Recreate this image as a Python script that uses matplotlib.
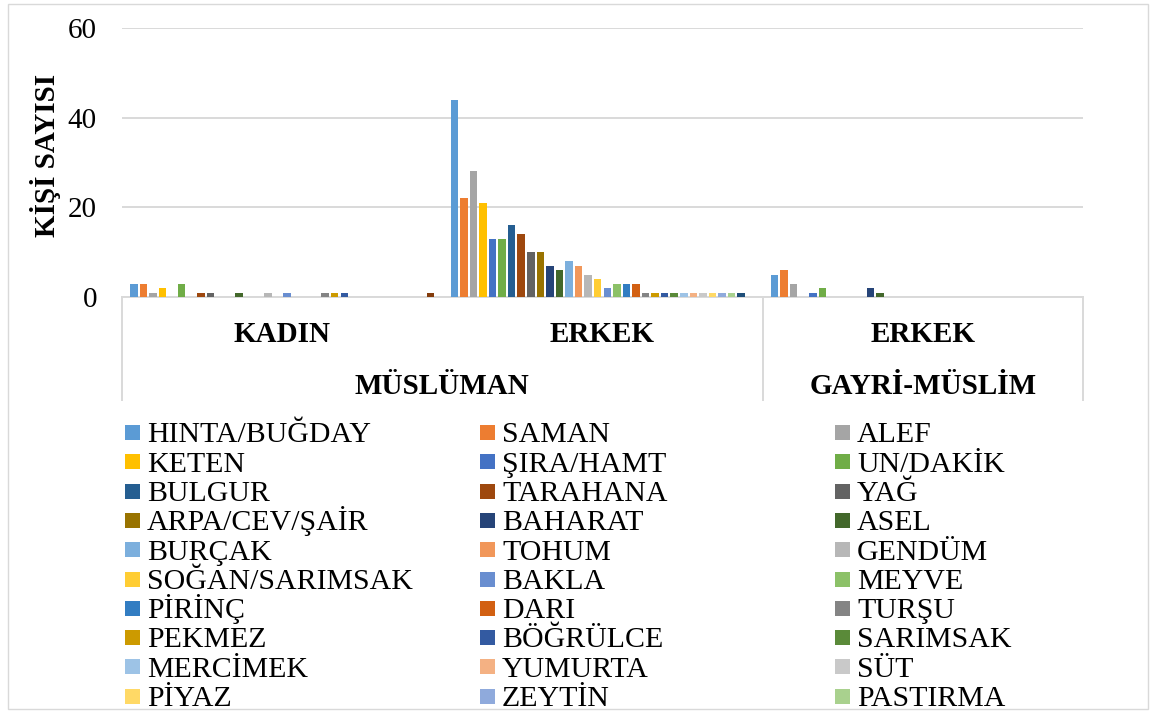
import numpy as np
import matplotlib
matplotlib.use("Agg")
import matplotlib.pyplot as plt
from matplotlib.patches import Rectangle
from matplotlib.lines import Line2D
from matplotlib.transforms import blended_transform_factory

plt.rcParams['font.family'] = ['Liberation Serif', 'DejaVu Serif']

# ---------------- data ----------------
groups_level1 = ["KADIN", "ERKEK", "ERKEK"]
groups_level2 = ["MÜSLÜMAN", "GAYRİ-MÜSLİM"]
level2_span = [(0, 1), (2, 2)]

series_labels = [
    "HINTA/BUĞDAY", "SAMAN", "ALEF", "KETEN", "ŞIRA/HAMT", "UN/DAKİK",
    "BULGUR", "TARAHANA", "YAĞ", "ARPA/CEV/ŞAİR", "BAHARAT", "ASEL",
    "BURÇAK", "TOHUM", "GENDÜM", "SOĞAN/SARIMSAK", "BAKLA", "MEYVE",
    "PİRİNÇ", "DARI", "TURŞU", "PEKMEZ", "BÖĞRÜLCE", "SARIMSAK",
    "MERCİMEK", "YUMURTA", "SÜT", "PİYAZ", "ZEYTİN", "PASTIRMA",
    "", "",
]

values_kadin = [3, 3, 1, 2, 0, 3, 0, 1, 1, 0, 0, 1, 0, 0, 1, 0,
                1, 0, 0, 0, 1, 1, 1, 0, 0, 0, 0, 0, 0, 0, 0, 1]
values_erkek = [44, 22, 28, 21, 13, 13, 16, 14, 10, 10, 7, 6, 8, 7, 5, 4,
                2, 3, 3, 3, 1, 1, 1, 1, 1, 1, 1, 1, 1, 1, 1, 0]
values_gayri = [5, 6, 3, 0, 1, 2, 0, 0, 0, 0, 2, 1, 0, 0, 0, 0,
                0, 0, 0, 0, 0, 0, 0, 0, 0, 0, 0, 0, 0, 0, 0, 0]

colors = [
    "#5B9BD5", "#ED7D31", "#A5A5A5", "#FFC000", "#4472C4", "#70AD47",
    "#255E91", "#9E480E", "#636363", "#997300", "#264478", "#43682B",
    "#7CAFDD", "#F1975A", "#B7B7B7", "#FFCD33", "#698ED0", "#8CC168",
    "#327DC2", "#D26012", "#848484", "#CC9A00", "#335AA1", "#5A8A39",
    "#9DC3E6", "#F4B183", "#C9C9C9", "#FFD966", "#8FAADC", "#A9D18E",
    "#1F4E79", "#843C0C",
]

y_ticks = [0, 20, 40, 60]
y_label = "KİŞİ SAYISI"

# ---------------- layout helpers ----------------
W, H = 1151, 711
def fx(px): return px / W
def fy(py): return 1 - py / H

fig = plt.figure(figsize=(W / 100, H / 100), dpi=100)
ax = fig.add_axes([fx(122), fy(297), (1083 - 122) / W, (297 - 28) / H])

n_series = len(series_labels)
gap = 1.5
w = 1.0 / (n_series + gap)
x_groups = np.arange(len(groups_level1))
data = np.array([values_kadin, values_erkek, values_gayri])

for i in range(n_series):
    xs = x_groups - 0.5 + (gap / 2 + i + 0.5) * w
    ax.bar(xs, data[:, i], width=w * 0.78, color=colors[i], zorder=3)

ax.set_xlim(-0.5, len(groups_level1) - 0.5)
ax.set_ylim(0, 60)
ax.set_yticks(y_ticks)
ax.set_xticks([])
ax.tick_params(axis='y', length=0, pad=18, labelsize=21)
ax.yaxis.grid(True, color='#D9D9D9', lw=1.4, zorder=0)
ax.set_axisbelow(True)
for s in ['left', 'right', 'top']:
    ax.spines[s].set_visible(False)
ax.spines['bottom'].set_color('#D9D9D9')
ax.spines['bottom'].set_linewidth(1.4)

# y label
fig.text(fx(55), fy(155), y_label, rotation=90, rotation_mode='anchor',
         ha='center', va='baseline', fontsize=21, fontweight='bold')

# category axis (multi-level)
tr = blended_transform_factory(ax.transData, fig.transFigure)
for g, lab in zip(x_groups, groups_level1):
    ax.text(g, fy(341.5), lab, transform=tr, ha='center', va='baseline',
            fontsize=21, fontweight='bold')
for (a, b), lab in zip(level2_span, groups_level2):
    ax.text((a + b) / 2, fy(394), lab, transform=tr, ha='center', va='baseline',
            fontsize=21, fontweight='bold')
for xb in [-0.5, 1.5, 2.5]:
    ax.add_line(Line2D([xb, xb], [fy(297), fy(400)], transform=tr,
                       color='#D9D9D9', lw=1.4, clip_on=False))

# legend (3 columns, row-major)
marker_x = [125, 480, 835]
text_x = [147, 502, 857]
for i, lab in enumerate(series_labels):
    if not lab:
        continue
    r, c = divmod(i, 3)
    cy = 432.5 + 29.3 * r
    fig.add_artist(Rectangle((fx(marker_x[c]), fy(cy + 7.5)), 15 / W, 15 / H,
                             transform=fig.transFigure, color=colors[i], lw=0))
    fig.text(fx(text_x[c]), fy(cy + 9.8), lab, ha='left', va='baseline',
             fontsize=21.5)

# outer chart border
fig.add_artist(Rectangle((fx(8), fy(709)), 1140 / W, 705 / H,
                         transform=fig.transFigure, fill=False,
                         edgecolor='#D9D9D9', lw=1))

fig.savefig("out.png", dpi=100)
